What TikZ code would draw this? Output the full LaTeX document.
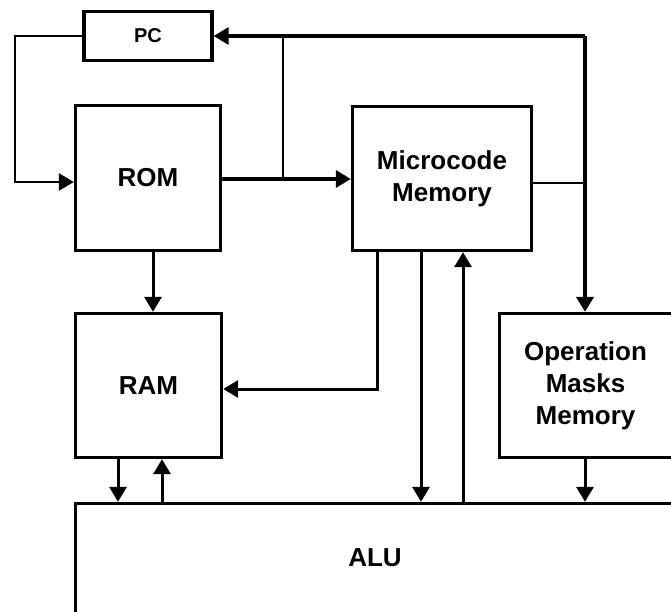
\documentclass[tikz,border=0pt]{standalone}
\usepackage{fontspec}
\setmainfont{Liberation Sans}
\usetikzlibrary{arrows.meta,calc}
\begin{document}
\begin{tikzpicture}[x=1pt,y=-1pt,
  blk/.style={draw,line width=3.3pt,inner sep=0pt,align=center,
    font=\fontsize{26}{32}\selectfont\bfseries},
  openblk/.style={blk,draw=none,outer sep=0pt},
  boxline/.style={line width=3.3pt},
  wire/.style={line width=3pt},
  thinw/.style={line width=2.2pt},
  arr/.style={-{Triangle[length=15pt,width=17pt]}},
]
\useasboundingbox (0,0) rectangle (671,612);
\node[blk,minimum width=128pt,minimum height=49pt,font=\fontsize{20}{24}\selectfont\bfseries] (PC) at (148,36) {PC};
\node[blk,minimum width=145pt,minimum height=145pt] (ROM) at (148,178) {ROM};
\node[blk,minimum width=146pt,minimum height=144pt] (RAM) at (148.5,385.5) {RAM};
\node[blk,minimum width=179pt,minimum height=144pt] (MC) at (442,178.5) {Microcode\\Memory};
\node[openblk,minimum width=172pt,minimum height=144pt] (OM) at (585.5,385.5) {Operation\\Masks\\Memory};
\draw[boxline] ($(OM.north east)+(20,0)$) -- (OM.north west) -- (OM.south west) -- ($(OM.south east)+(20,0)$);
\node[openblk,minimum width=599pt,minimum height=109pt] (ALU) at (375,558) {ALU};
\draw[boxline] ($(ALU.south west)+(0,20)$) -- (ALU.north west) -- ($(ALU.north east)+(20,0)$);
\coordinate (TR) at (585,36);
\coordinate (TL) at (15,36);
\coordinate (LB) at (15,182);
\coordinate (JR) at (283,36);
% PC -> ROM
\draw[wire,line width=2.6pt,arr] (PC.west) -- (TL) -- (LB) -- (ROM.west |- LB);
% ROM -> Microcode
\draw[line width=3.3pt,arr] (ROM.east |- 0,179) -- (MC.west |- 0,179);
\draw[thinw] (JR) -- (JR |- 0,179);
% top bus
\draw[line width=3.3pt,arr] (TR) -- (PC.east |- TR);
\draw[line width=4.2pt,arr] (TR) -- ([yshift=1.65pt]OM.north -| TR);
\draw[thinw] (MC.east |- 0,183) -- (TR |- 0,183);
% ROM -> RAM
\draw[wire,arr] (153,0 |- ROM.south) -- (153,0 |- RAM.north);
% Microcode -> RAM
\draw[wire,arr] (377,0 |- MC.south) -- (377,389) -- (RAM.east |- 0,389);
% Microcode <-> ALU
\draw[wire,arr] (421,0 |- MC.south) -- ([yshift=1.65pt]421,0 |- ALU.north);
\draw[wire,arr] ([yshift=1.65pt]463,0 |- ALU.north) -- (463,0 |- MC.south);
% RAM <-> ALU
\draw[wire,arr] (118,0 |- RAM.south) -- ([yshift=1.65pt]118,0 |- ALU.north);
\draw[wire,arr] ([yshift=1.65pt]162,0 |- ALU.north) -- (162,0 |- RAM.south);
% OM -> ALU
\draw[wire,arr] ([yshift=-1.65pt]OM.south -| TR) -- ([yshift=1.65pt]ALU.north -| TR);
\end{tikzpicture}
\end{document}
